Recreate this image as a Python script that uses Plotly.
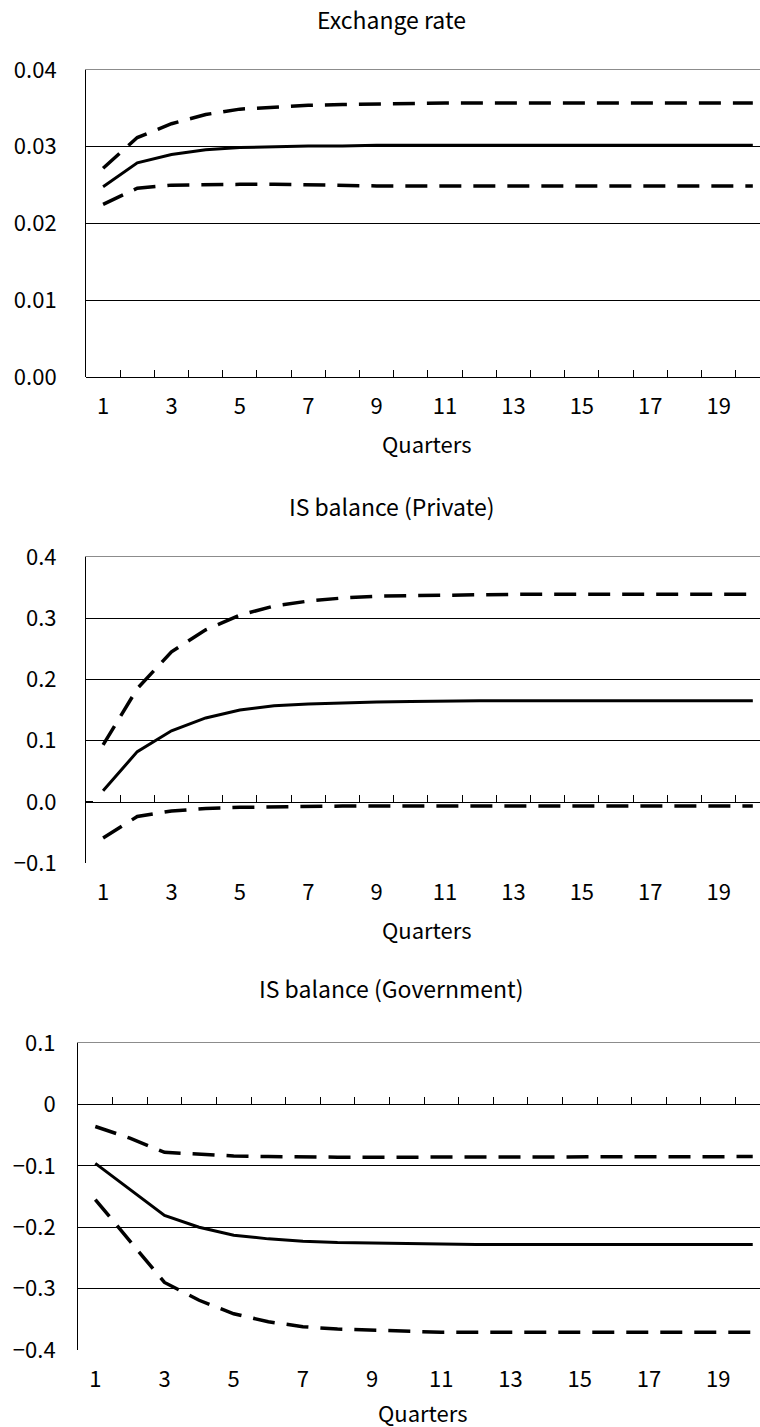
import plotly.graph_objects as go

quarters = list(range(1, 21))
x_tick_vals = [1, 3, 5, 7, 9, 11, 13, 15, 17, 19]
x_tick_text = ["1", "3", "5", "7", "9", "11", "13", "15", "17", "19"]

# Exchange rate
er_mid = [0.0248, 0.0279, 0.0290, 0.0296, 0.0299, 0.0300, 0.0301, 0.0301, 0.0302, 0.0302,
          0.0302, 0.0302, 0.0302, 0.0302, 0.0302, 0.0302, 0.0302, 0.0302, 0.0302, 0.0302]
er_upper = [0.0272, 0.0312, 0.0330, 0.0342, 0.0349, 0.0352, 0.0354, 0.0355, 0.0356, 0.0356,
            0.0357, 0.0357, 0.0357, 0.0357, 0.0357, 0.0357, 0.0357, 0.0357, 0.0357, 0.0357]
er_lower = [0.0225, 0.0246, 0.0250, 0.0251, 0.0251, 0.0251, 0.0250, 0.0250, 0.0249, 0.0249,
            0.0249, 0.0249, 0.0249, 0.0249, 0.0249, 0.0249, 0.0249, 0.0249, 0.0249, 0.0249]

# IS balance (Private)
pr_mid = [0.018, 0.082, 0.116, 0.137, 0.150, 0.157, 0.160, 0.162, 0.163, 0.164,
          0.165, 0.165, 0.165, 0.165, 0.165, 0.165, 0.165, 0.165, 0.165, 0.165]
pr_upper = [0.093, 0.185, 0.245, 0.281, 0.305, 0.320, 0.328, 0.333, 0.336, 0.337,
            0.338, 0.338, 0.339, 0.339, 0.339, 0.339, 0.339, 0.339, 0.339, 0.339]
pr_lower = [-0.059, -0.024, -0.015, -0.011, -0.009, -0.008, -0.007, -0.007, -0.007, -0.007,
            -0.007, -0.007, -0.007, -0.007, -0.007, -0.007, -0.007, -0.007, -0.007, -0.007]

# IS balance (Government)
gv_mid = [-0.096, -0.138, -0.181, -0.200, -0.213, -0.219, -0.223, -0.225, -0.226, -0.227,
          -0.227, -0.228, -0.228, -0.228, -0.228, -0.228, -0.228, -0.228, -0.228, -0.228]
gv_upper = [-0.036, -0.055, -0.078, -0.081, -0.084, -0.085, -0.086, -0.086, -0.086, -0.086,
            -0.086, -0.086, -0.086, -0.086, -0.086, -0.086, -0.086, -0.085, -0.085, -0.085]
gv_lower = [-0.155, -0.222, -0.290, -0.319, -0.341, -0.354, -0.362, -0.366, -0.368, -0.370,
            -0.371, -0.371, -0.371, -0.371, -0.371, -0.371, -0.371, -0.371, -0.371, -0.371]

titles = ["Exchange rate", "IS balance (Private)", "IS balance (Government)"]
x_title = "Quarters"

y_ticks = [
    [0.00, 0.01, 0.02, 0.03, 0.04],
    [-0.1, 0.0, 0.1, 0.2, 0.3, 0.4],
    [-0.4, -0.3, -0.2, -0.1, 0.0, 0.1],
]
y_ticktext = [
    ["0.00", "0.01", "0.02", "0.03", "0.04"],
    ["\u22120.1", "0.0", "0.1", "0.2", "0.3", "0.4"],
    ["\u22120.4", "\u22120.3", "\u22120.2", "\u22120.1", "0", "0.1"],
]
y_grid = [
    [0.01, 0.02, 0.03],
    [0.1, 0.2, 0.3],
    [-0.4, -0.3, -0.2, -0.1],
]
y_ranges = [[0.0, 0.04], [-0.1, 0.4], [-0.4, 0.1]]
series = [
    (er_mid, er_upper, er_lower),
    (pr_mid, pr_upper, pr_lower),
    (gv_mid, gv_upper, gv_lower),
]

W, H = 760, 1427
FONT = "Noto Sans CJK JP"
FS = 23

# layout geometry in pixels (top, bottom, left) per panel
panel_px = [(70, 377, 86), (557, 863, 86), (1043, 1350, 78)]
title_px = [(391, 19), (391, 506), (391, 988)]
xtitle_px = [(427, 443), (427, 929), (423, 1412)]
ylab_standoff = [24, 24, 17]
x_range = [0.5, 20.21]
boundary_ticks = [i + 0.5 for i in range(1, 20)]

fig = go.Figure()
layout = dict(
    template="none",
    width=W, height=H, margin=dict(l=0, r=0, t=0, b=0, pad=0, autoexpand=False),
    paper_bgcolor="white", plot_bgcolor="white", showlegend=False,
    font=dict(family=FONT, size=FS, color="black"),
    annotations=[],
)

for i in range(3):
    top, bot, left = panel_px[i]
    ydom = [1 - bot / H, 1 - top / H]
    xdom = [left / W, 1.0]
    xm, xz, xt = 3 * i + 1, 3 * i + 2, 3 * i + 3
    ym, yg = 2 * i + 1, 2 * i + 2
    n = lambda k: "" if k == 1 else str(k)
    ymin, ymax = y_ranges[i]
    zero_pos = ydom[0] + (0 - ymin) / (ymax - ymin) * (ydom[1] - ydom[0])

    mid, up, lo = series[i]
    for vals, dash, w in ((up, "22px,12px", 3.5), (lo, "22px,12px", 3.5), (mid, "solid", 3)):
        fig.add_trace(go.Scatter(x=quarters, y=vals, mode="lines",
                                 line=dict(color="black", width=w, dash=dash),
                                 xaxis="x" + n(xm), yaxis="y" + n(ym), hoverinfo="skip"))
    # dummy traces to instantiate overlay axes
    fig.add_trace(go.Scatter(x=[], y=[], xaxis="x" + n(xz), yaxis="y" + n(ym)))
    fig.add_trace(go.Scatter(x=[], y=[], xaxis="x" + n(xt), yaxis="y" + n(ym)))
    fig.add_trace(go.Scatter(x=[], y=[], xaxis="x" + n(xm), yaxis="y" + n(yg)))

    layout["xaxis" + n(xm)] = dict(
        domain=xdom, anchor="y" + n(ym), range=x_range, showline=False, showgrid=False,
        zeroline=False, ticks="", tickmode="array", tickvals=x_tick_vals, ticktext=x_tick_text,
        ticklabelstandoff=14, tickfont=dict(size=FS - 1), automargin=False,
    )
    layout["xaxis" + n(xz)] = dict(
        overlaying="x" + n(xm), anchor="free", position=zero_pos, range=x_range,
        showline=True, linecolor="black", linewidth=1, showgrid=False, zeroline=False,
        ticks="inside", ticklen=7, tickcolor="black", tickwidth=1, tickmode="array",
        tickvals=boundary_ticks, showticklabels=False, automargin=False,
    )
    layout["xaxis" + n(xt)] = dict(
        overlaying="x" + n(xm), anchor="y" + n(ym), side="top", range=x_range,
        showline=True, linecolor="#8c8c8c", linewidth=1, showgrid=False, zeroline=False,
        ticks="", showticklabels=False, automargin=False,
    )
    layout["yaxis" + n(ym)] = dict(
        domain=ydom, anchor="x" + n(xm), range=y_ranges[i], showline=True, linecolor="black",
        linewidth=1, showgrid=False, zeroline=False, ticks="inside", ticklen=7,
        tickcolor="black", tickmode="array", tickvals=y_ticks[i], ticktext=y_ticktext[i],
        ticklabelstandoff=ylab_standoff[i], tickfont=dict(size=FS - 1), automargin=False,
    )
    layout["yaxis" + n(yg)] = dict(
        overlaying="y" + n(ym), anchor="x" + n(xm), range=y_ranges[i], showline=False,
        showgrid=True, gridcolor="black", gridwidth=1, zeroline=False, ticks="",
        tickmode="array", tickvals=y_grid[i], showticklabels=False, automargin=False,
    )
    tx, ty = title_px[i]
    layout["annotations"].append(dict(
        text=titles[i], x=tx / W, y=1 - ty / H, xref="paper", yref="paper",
        xanchor="center", yanchor="middle", showarrow=False, font=dict(size=FS)))
    qx, qy = xtitle_px[i]
    layout["annotations"].append(dict(
        text=x_title, x=qx / W, y=1 - qy / H, xref="paper", yref="paper",
        xanchor="center", yanchor="middle", showarrow=False, font=dict(size=FS - 1)))

fig.update_layout(**layout)
fig.write_html("out.html", config={"displayModeBar": False},
               post_script="document.body.style.margin='0';document.body.style.overflow='hidden';")
